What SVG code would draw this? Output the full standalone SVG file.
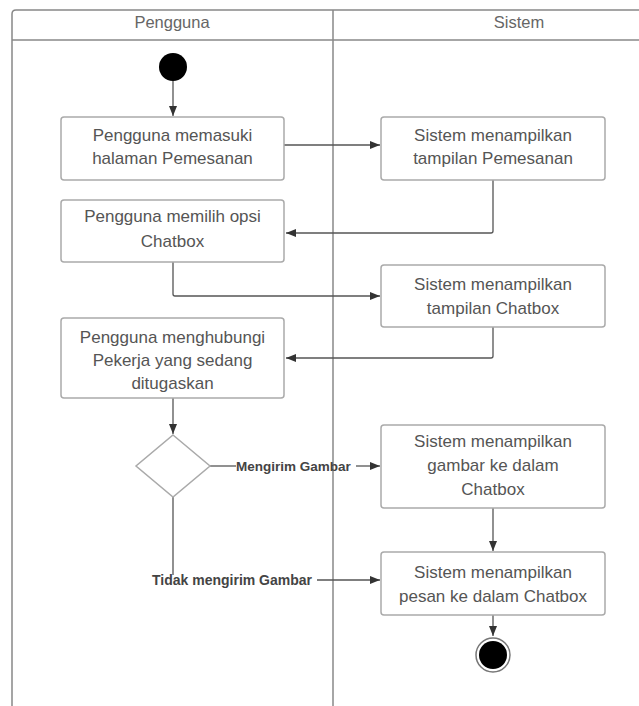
<svg xmlns="http://www.w3.org/2000/svg" width="639" height="706" viewBox="0 0 639 706">
<defs>
<marker id="arr" viewBox="0 0 10 10" refX="10" refY="5" markerWidth="10" markerHeight="10" markerUnits="userSpaceOnUse" orient="auto">
<path d="M0,1 L10,5 L0,9 Z" fill="#333"/>
</marker>
<style>
.lane{fill:none;stroke:#888;stroke-width:1.5}
.box{fill:#fff;stroke:#aaa;stroke-width:1.5}
.t{font-family:"Liberation Sans",Arial,sans-serif;font-size:17px;fill:#555;text-anchor:middle}
.h{font-family:"Liberation Sans",Arial,sans-serif;font-size:16.5px;fill:#666;text-anchor:middle}
.lbl{font-family:"Liberation Sans",Arial,sans-serif;font-weight:bold;fill:#444}
.c{fill:none;stroke:#555;stroke-width:1.3;marker-end:url(#arr)}
.cn{fill:none;stroke:#555;stroke-width:1.3}
</style>
</defs>
<rect width="639" height="706" fill="#fff"/>
<g id="lanes">
<path class="lane" d="M12,712 L12,14 Q12,10 16,10 L645,10"/>
<line class="lane" x1="12" y1="40" x2="645" y2="40"/>
<line class="lane" x1="333" y1="10" x2="333" y2="712"/>
<text class="h" x="172" y="28">Pengguna</text>
<text class="h" x="519" y="28">Sistem</text>
</g>
<g id="connectors">
<path class="c" d="M173,81 L173,116"/>
<path class="c" d="M284,145 L380,145"/>
<path class="c" d="M493,180 L493,231 Q493,233 491,233 L286,233"/>
<path class="c" d="M173,262 L173,294 Q173,296 175,296 L380,296"/>
<path class="c" d="M493,327 L493,356 Q493,358 491,358 L286,358"/>
<path class="c" d="M173,398 L173,434"/>
<path class="cn" d="M210,466 L236,466"/>
<path class="c" d="M356,466 L380,466"/>
<path class="c" d="M493,508 L493,551"/>
<path class="cn" d="M173,497 L173,575"/>
<path class="c" d="M317,580 L380,580"/>
<path class="c" d="M493,615 L493,636"/>
</g>
<g id="start"><circle cx="173" cy="67" r="14" fill="#000"/></g>
<g id="a1"><rect class="box" x="61" y="117" width="223" height="63" rx="3"/>
<text class="t" x="172.5" y="141">Pengguna memasuki</text><text class="t" x="172.5" y="164">halaman Pemesanan</text></g>
<g id="s1"><rect class="box" x="381" y="117" width="224" height="63" rx="3"/>
<text class="t" x="493" y="141">Sistem menampilkan</text><text class="t" x="493" y="164">tampilan Pemesanan</text></g>
<g id="a2"><rect class="box" x="61" y="200" width="223" height="62" rx="3"/>
<text class="t" x="172.5" y="222">Pengguna memilih opsi</text><text class="t" x="172.5" y="247">Chatbox</text></g>
<g id="s2"><rect class="box" x="381" y="265" width="224" height="62" rx="3"/>
<text class="t" x="493" y="290">Sistem menampilkan</text><text class="t" x="493" y="314">tampilan Chatbox</text></g>
<g id="a3"><rect class="box" x="61" y="318" width="223" height="80" rx="3"/>
<text class="t" x="172.5" y="343">Pengguna menghubungi</text><text class="t" x="172.5" y="366">Pekerja yang sedang</text><text class="t" x="172.5" y="389">ditugaskan</text></g>
<g id="decision"><path d="M173,435 L210,466 L173,497 L136,466 Z" fill="#fff" stroke="#aaa" stroke-width="1.5"/></g>
<g id="s3"><rect class="box" x="381" y="425" width="224" height="83" rx="3"/>
<text class="t" x="493" y="447">Sistem menampilkan</text><text class="t" x="493" y="471">gambar ke dalam</text><text class="t" x="493" y="495">Chatbox</text></g>
<g id="s4"><rect class="box" x="381" y="552" width="224" height="63" rx="3"/>
<text class="t" x="493" y="578">Sistem menampilkan</text><text class="t" x="493" y="602">pesan ke dalam Chatbox</text></g>
<g id="end"><circle cx="493" cy="655" r="17" fill="#fff" stroke="#777" stroke-width="1.5"/><circle cx="493" cy="655" r="14" fill="#000"/></g>
<g id="labels">
<text class="lbl" x="236" y="471" font-size="13.5">Mengirim Gambar</text>
<text class="lbl" x="152" y="585" font-size="14">Tidak mengirim Gambar</text>
</g>
</svg>
